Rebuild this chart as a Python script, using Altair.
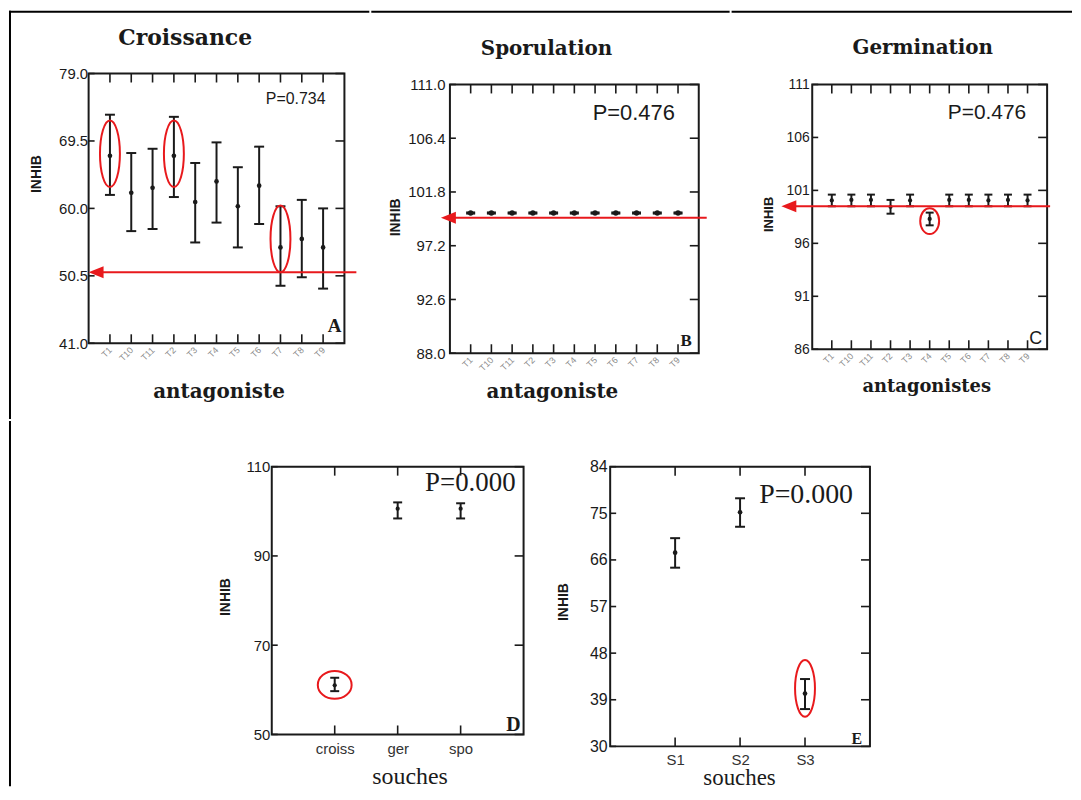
import altair as alt
import pandas as pd

# ------------------------------------------------------------------ data
antagonists = ["T1", "T10", "T11", "T2", "T3", "T4", "T5", "T6", "T7", "T8", "T9"]

croiss_mean = [67.4, 62.2, 62.9, 67.4, 60.9, 63.8, 60.3, 63.2, 54.5, 55.7, 54.5]
croiss_low = [61.9, 56.8, 57.1, 61.6, 55.2, 58.0, 54.5, 57.8, 49.1, 50.3, 48.7]
croiss_high = [73.2, 67.8, 68.4, 72.9, 66.4, 69.3, 65.8, 68.7, 60.3, 61.2, 60.0]
croiss_ticks = [41.0, 50.5, 60.0, 69.5, 79.0]
croiss_ref = 51.0
croiss_marked = ["T1", "T2", "T7"]
croiss_marked_y = [67.7, 67.7, 55.7]

spor_mean = [100.0, 100.0, 100.0, 100.0, 100.0, 100.0, 100.0, 100.0, 100.0, 100.0, 100.0]
spor_low = [99.95, 99.95, 99.95, 99.95, 99.95, 99.95, 99.95, 99.95, 99.95, 99.95, 99.95]
spor_high = [100.05, 100.05, 100.05, 100.05, 100.05, 100.05, 100.05, 100.05, 100.05, 100.05, 100.05]
spor_ticks = [88.0, 92.6, 97.2, 101.8, 106.4, 111.0]
spor_ref = 99.6

germ_mean = [100.05, 100.1, 100.1, 99.45, 100.05, 98.3, 100.1, 100.1, 100.05, 100.1, 100.05]
germ_low = [99.5, 99.5, 99.5, 98.8, 99.5, 97.7, 99.5, 99.5, 99.5, 99.5, 99.5]
germ_high = [100.6, 100.6, 100.6, 100.1, 100.6, 98.9, 100.6, 100.6, 100.6, 100.6, 100.6]
germ_ticks = [86, 91, 96, 101, 106, 111]
germ_ref = 99.5
germ_marked = ["T4"]
germ_marked_y = [98.1]

param_cats = ["croiss", "ger", "spo"]
param_mean = [61.0, 100.6, 100.6]
param_low = [59.7, 98.4, 98.4]
param_high = [62.7, 102.0, 101.8]
param_ticks = [50, 70, 90, 110]
param_marked = ["croiss"]
param_marked_y = [61.1]

strain_cats = ["S1", "S2", "S3"]
strain_mean = [67.4, 75.2, 40.2]
strain_low = [64.5, 72.4, 37.2]
strain_high = [70.2, 77.9, 43.0]
strain_ticks = [30, 39, 48, 57, 66, 75, 84]
strain_marked = ["S3"]
strain_marked_y = [41.2]

# ------------------------------------------------------------------ style
SANS = "Liberation Sans"
SERIF = "Liberation Serif"
DSERIF = "DejaVu Serif"
INK = "#1a1a1a"
RED = "#e8191c"
ONE = alt.Data(values=[{"k": 0}])
TICK = 9
ROW_SPLIT = 418


def ellipse_path(w, h):
    a = w / h
    k = 0.5523
    return (f"M 0,-1 C {k*a:.3f},-1 {a:.3f},{-k:.3f} {a:.3f},0 "
            f"C {a:.3f},{k:.3f} {k*a:.3f},1 0,1 "
            f"C {-k*a:.3f},1 {-a:.3f},{k:.3f} {-a:.3f},0 "
            f"C {-a:.3f},{-k:.3f} {-k*a:.3f},-1 0,-1 Z")


class Cell:
    """A layered view whose full bounds are fixed by a transparent rect."""

    def __init__(self, origin, W, H, cell):
        self.ox, self.oy = origin
        self.W, self.H = W, H
        l, t, r, b = cell
        self.layers = [
            alt.Chart(ONE).mark_rect(opacity=0).encode(
                x=alt.value(self.px(l)), x2=alt.value(self.px(r)),
                y=alt.value(self.py(t)), y2=alt.value(self.py(b))),
        ]

    def px(self, x):
        return x - self.ox

    def py(self, y):
        return y - self.oy

    def text(self, s, x, y, size, font=SANS, weight="normal", align="center",
             angle=0, baseline="alphabetic", color=INK):
        self.layers.append(
            alt.Chart(ONE).mark_text(fontSize=size, font=font, fontWeight=weight,
                                     align=align, baseline=baseline, angle=angle,
                                     color=color).encode(
                x=alt.value(self.px(x)), y=alt.value(self.py(y)), text=alt.value(s)))

    def hline(self, x1, x2, y):
        self.layers.append(alt.Chart(ONE).mark_rule(color="black", strokeWidth=2).encode(
            x=alt.value(self.px(x1)), x2=alt.value(self.px(x2)), y=alt.value(self.py(y))))

    def vline(self, x, y1, y2):
        self.layers.append(alt.Chart(ONE).mark_rule(color="black", strokeWidth=2).encode(
            x=alt.value(self.px(x)), y=alt.value(self.py(y1)), y2=alt.value(self.py(y2))))

    def chart(self):
        return alt.layer(*self.layers).properties(width=self.W, height=self.H)


class Panel(Cell):
    def __init__(self, cats, mean, low, high, ticks, fmt, origin, W, top, H, cell,
                 xaxis_kw, ylab_size, ylab_pad, cap_w, pt_size):
        super().__init__(origin, W, top + H, cell)
        df = pd.DataFrame({"cat": cats, "mean": mean, "lo": low, "hi": high})
        xs = alt.Scale(type="point", domain=cats, padding=1)
        ys = alt.Scale(domain=[ticks[0], ticks[-1]], range=[top + H, top],
                       nice=False, zero=False)
        xaxis = alt.Axis(title=None, ticks=False, domain=False, grid=False,
                         labelFont=SANS, **xaxis_kw)
        yaxis = alt.Axis(title=None, ticks=False, domain=False, grid=False,
                         values=ticks, format=fmt, labelFont=SANS,
                         labelFontSize=ylab_size, labelPadding=ylab_pad,
                         labelColor=INK, labelOverlap=False)
        self.X = lambda: alt.X("cat:N", scale=xs, axis=xaxis)
        self.Y = lambda f: alt.Y(f + ":Q", scale=ys, axis=yaxis)
        X, Y = self.X, self.Y
        bottom = top + H
        tdf = pd.DataFrame({"v": ticks})
        cdf = pd.DataFrame({"cat": cats})
        rule = dict(color=INK, strokeWidth=1.6)
        self.layers += [
            alt.Chart(ONE).mark_rect(fillOpacity=0, stroke=INK, strokeWidth=2).encode(
                x=alt.value(0), x2=alt.value(W), y=alt.value(top), y2=alt.value(bottom)),
            alt.Chart(tdf).mark_rule(**rule).encode(
                y=Y("v"), x=alt.value(0), x2=alt.value(6)),
            alt.Chart(tdf).mark_rule(**rule).encode(
                y=Y("v"), x=alt.value(W - TICK), x2=alt.value(W)),
            alt.Chart(cdf).mark_rule(**rule).encode(
                x=X(), y=alt.value(top), y2=alt.value(top + TICK)),
            alt.Chart(cdf).mark_rule(**rule).encode(
                x=X(), y=alt.value(bottom - TICK), y2=alt.value(bottom)),
            alt.Chart(df).mark_rule(color=INK, strokeWidth=2).encode(
                x=X(), y=Y("lo"), y2=alt.Y2("hi")),
            alt.Chart(df).mark_tick(color=INK, thickness=2, size=cap_w, opacity=1).encode(
                x=X(), y=Y("lo")),
            alt.Chart(df).mark_tick(color=INK, thickness=2, size=cap_w, opacity=1).encode(
                x=X(), y=Y("hi")),
            alt.Chart(df).mark_circle(color=INK, size=pt_size, opacity=1).encode(
                x=X(), y=Y("mean")),
        ]

    def ylabel(self, x, y, size=14):
        self.text("INHIB", x, y, size, weight="bold", angle=270, baseline="middle")

    def arrow(self, level, x_tip, x_end):
        d = alt.Data(values=[{"y": level}])
        self.layers += [
            alt.Chart(d).mark_rule(color=RED, strokeWidth=2).encode(
                y=self.Y("y"), x=alt.value(self.px(x_tip) + 6), x2=alt.value(self.px(x_end))),
            alt.Chart(d).mark_point(shape="M 0,0 L 2,-0.8 L 2,0.8 Z", filled=True,
                                    color=RED, size=225, opacity=1).encode(
                y=self.Y("y"), x=alt.value(self.px(x_tip))),
        ]

    def ellipses(self, cats, ys, w, h):
        d = pd.DataFrame({"cat": cats, "yc": ys})
        self.layers.append(
            alt.Chart(d).mark_point(shape=ellipse_path(w, h), filled=False, color=RED,
                                    strokeWidth=2, size=h * h, opacity=1).encode(
                x=self.X(), y=self.Y("yc")))


rot_axis = dict(labelAngle=315, labelAlign="right", labelBaseline="middle",
                labelFontSize=9, labelColor="#8a8a8a", labelPadding=5)

# ---------------------------------------------------------------- panel A
A = Panel(antagonists, croiss_mean, croiss_low, croiss_high, croiss_ticks, ".1f",
          (88, 71), 257, 0, 271, (8, 8, 370, ROW_SPLIT), rot_axis, 15, 1, 10, 22)
A.hline(8, 370, 9)
A.vline(9, 8, ROW_SPLIT)
A.arrow(croiss_ref, 88, 357)
A.ellipses(croiss_marked, croiss_marked_y, 20, 67)
A.text("Croissance", 185, 42, 22, font=DSERIF, weight="bold")
A.text("P=0.734", 326, 102, 16, align="right")
A.text("A", 342, 331, 19, font=SERIF, weight="bold", align="right")
A.text("antagoniste", 219, 397, 20, font=DSERIF, weight="bold")
A.ylabel(36.5, 172)

# ---------------------------------------------------------------- panel B
B = Panel(antagonists, spor_mean, spor_low, spor_high, spor_ticks, ".1f",
          (449, 71), 250, 11, 270, (370, 8, 730, ROW_SPLIT), rot_axis, 15, 5, 9, 30)
B.hline(370, 730, 9)
B.arrow(spor_ref, 440, 707)
B.text("Sporulation", 546, 52, 20, font=DSERIF, weight="bold")
B.text("P=0.476", 675, 118, 22, align="right")
B.text("B", 692, 345, 17, font=SERIF, weight="bold", align="right")
B.text("antagoniste", 552, 397, 20, font=DSERIF, weight="bold")
B.ylabel(395, 215.5)

# ---------------------------------------------------------------- panel C
C = Panel(antagonists, germ_mean, germ_low, germ_high, germ_ticks, "d",
          (811, 71), 236, 11, 266, (730, 8, 1072, ROW_SPLIT), rot_axis, 14, 3, 8, 18)
C.hline(730, 1072, 9)
C.arrow(germ_ref, 780, 1050)
C.ellipses(germ_marked, germ_marked_y, 19, 26)
C.text("Germination", 922, 51, 20, font=DSERIF, weight="bold")
C.text("P=0.476", 1026, 117, 21, align="right")
C.text("C", 1042, 343, 18, align="right")
C.text("antagonistes", 926, 391, 18, font=DSERIF, weight="bold")
C.ylabel(767.5, 212.5, 13)

# ------------------------------------------------- row 2 left spacer (frame)
S = Cell((88, 464), 1, 1, (8, ROW_SPLIT, 200, 786))
S.vline(9, ROW_SPLIT, 785)

# ---------------------------------------------------------------- panel D
flat_axis_D = dict(labelAngle=0, labelAlign="center", labelBaseline="top",
                   labelFontSize=15, labelColor="#333333", labelPadding=7)
D = Panel(param_cats, param_mean, param_low, param_high, param_ticks, "d",
          (272, 464), 253, 0, 269, (200, ROW_SPLIT, 545, 786), flat_axis_D, 15, 2, 9, 18)
D.ellipses(param_marked, param_marked_y, 34, 28)
D.text("P=0.000", 517, 488, 27, font=SERIF, align="right")
D.text("D", 522, 730, 20, font=SERIF, weight="bold", align="right")
D.text("souches", 411, 783, 24, font=SERIF)
D.ylabel(226, 595)

# ---------------------------------------------------------------- panel E
flat_axis_E = dict(labelAngle=0, labelAlign="center", labelBaseline="top",
                   labelFontSize=15, labelColor="#333333", labelPadding=6)
E = Panel(strain_cats, strain_mean, strain_low, strain_high, strain_ticks, "d",
          (612, 464), 261, 0, 281, (545, ROW_SPLIT, 1072, 786), flat_axis_E, 16, 3, 10, 22)
E.ellipses(strain_marked, strain_marked_y, 20, 57)
E.text("P=0.000", 856, 500, 28, font=SERIF, align="right")
E.text("E", 865, 743, 16, font=SERIF, weight="bold", align="right")
E.text("souches", 742, 784, 23, font=SERIF)
E.ylabel(566, 600)

row1 = alt.hconcat(A.chart(), B.chart(), C.chart(), spacing=0)
row2 = alt.hconcat(S.chart(), D.chart(), E.chart(), spacing=0)
chart = (alt.vconcat(row1, row2, spacing=0)
         .properties(padding=0, background="white")
         .configure_view(strokeOpacity=0))

chart.save("out.html", embed_options={"renderer": "svg", "actions": False})
